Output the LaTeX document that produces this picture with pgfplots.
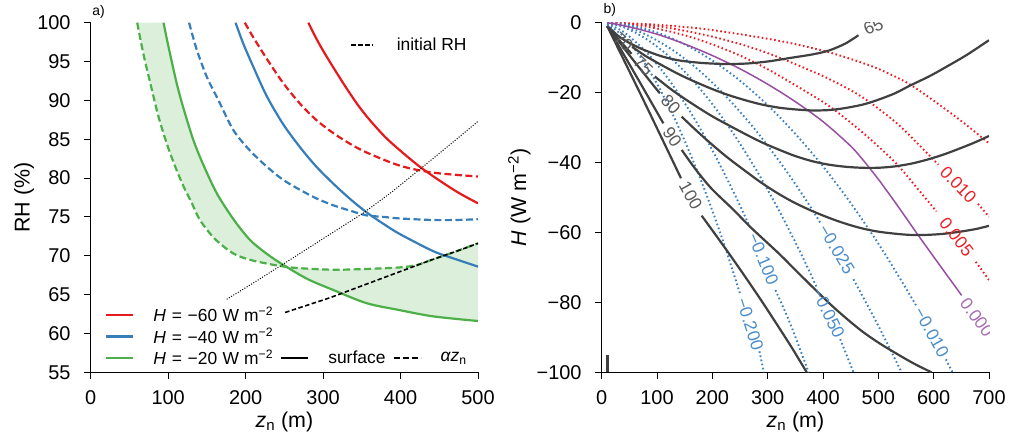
\documentclass[border=0pt]{standalone}
\usepackage{fontspec}
\setmainfont{Liberation Sans}
\setsansfont{Liberation Sans}
\usepackage{pgfplots}
\pgfplotsset{compat=1.18}
\definecolor{cred}{HTML}{E41A1C}
\definecolor{cblue}{HTML}{377EB8}
\definecolor{cgreen}{HTML}{4DAF4A}
\definecolor{cpurple}{HTML}{984EA3}
\definecolor{plab}{HTML}{A66BB0}
\definecolor{cdark}{HTML}{404040}
\definecolor{clab}{HTML}{5A5A5A}
\definecolor{rdot}{HTML}{EE1D23}
\definecolor{bdot}{HTML}{3A80C0}
\definecolor{blab}{HTML}{4A8CCB}
\definecolor{gfill}{HTML}{DBEFDB}
\tikzset{lab/.style={font=\fontsize{17.5}{20}\selectfont, inner sep=0pt}}
\newcommand{\Hent}[1]{\textit{H}\hspace{0.33em}=\hspace{0.33em}\textminus#1\hspace{0.3em}W\hspace{0.3em}m\textsuperscript{\textminus2}}
\pgfplotsset{
 panel/.style={
  scale only axis, width=387.3bp, height=349.6bp, anchor=south west,
  axis x line*=bottom, axis y line*=left,
  axis line style={line width=1.1bp, black},
  tick align=outside, major tick length=6.5bp,
  tick style={line width=1bp, black},
  tick label style={font=\fontsize{20}{22}\selectfont},
  label style={font=\fontsize{21.5}{24}\selectfont},
  /pgf/number format/assume math mode=true,
  xticklabel style={anchor=north, inner sep=0pt, yshift=-12bp},
  yticklabel style={anchor=east, inner sep=0pt, xshift=-13.5bp},
  xlabel style={at={(axis description cs:0.5,-0.1413)}, anchor=center},
  every axis plot/.append style={mark=none},
 },
 bc/.style={cdark, line width=2.2bp, smooth},
 rd/.style={rdot, line width=1.9bp, dash pattern=on 1.6bp off 2.6bp, smooth},
 bd/.style={bdot, line width=1.9bp, dash pattern=on 1.6bp off 2.6bp, smooth},
}
\begin{document}
\begin{tikzpicture}[x=1bp,y=1bp]
\path[use as bounding box] (0,0) rectangle (1021,441);
\node[font=\fontsize{14}{16}\selectfont, inner sep=0pt] at (98.5,429.5) {a)};
\node[font=\fontsize{14}{16}\selectfont, inner sep=0pt] at (609.7,431) {b)};

% ---------------- panel a ----------------
\begin{axis}[panel, at={(90.7bp,68.7bp)},
  xmin=0, xmax=500, ymin=55, ymax=100,
  xtick={0,100,...,500}, ytick={55,60,...,100},
  xlabel={\textit{z}\textsubscript{n} (m)}, ylabel={RH (\%)},
  ylabel style={at={(axis description cs:-0.172,0.5)}, anchor=center},
  legend columns=3, legend cell align=left,
  legend image code/.code={\draw[#1] (0bp,0bp) -- (27bp,0bp);},
  legend style={draw=none, fill=none, inner sep=0pt,
    at={(axis description cs:0.037,0.1925)}, anchor=north west,
    font=\fontsize{17.5}{20}\selectfont, row sep=1bp,
    /tikz/every odd column/.append style={column sep=17bp},
    /tikz/every even column/.append style={column sep=5bp}},
]
\addplot[fill=gfill, draw=none, forget plot] coordinates {
(60,100) (68,96.0) (77,92.2) (87,88.1) (98,84.5) (109,81.5) (120,78.9) (130,76.9) (141,74.6) (160,72.2) (184,70.3) (205,69.5) (227,69.0) (250,68.6) (270,68.4) (313,68.2) (356,68.3) (399,68.5) (420,68.75) (438,69.4) (470,70.5) (500,71.6)
(500,61.6) (442,62.2) (399,63.0) (356,63.9) (313,65.6) (280,67.0) (249,68.8) (228,70.2) (206,72.0) (185,74.6) (163,78.0) (145,81.8) (132.5,84.9) (120,88.9) (111,92.2) (100,97.1) (94,100)} -- cycle;
\addplot[cgreen, line width=2.2bp, smooth, forget plot] coordinates {
(94,100) (100,97.1) (111,92.2) (120,88.9) (132.5,84.9) (145,81.8) (163,78.0) (185,74.6) (206,72.0) (228,70.2) (249,68.8) (280,67.0) (313,65.6) (356,63.9) (399,63.0) (442,62.2) (500,61.6)};
\addplot[cgreen, line width=2.2bp, dash pattern=on 7bp off 3.5bp, smooth, forget plot] coordinates {
(60,100) (68,96.0) (77,92.2) (87,88.1) (98,84.5) (109,81.5) (120,78.9) (130,76.9) (141,74.6) (160,72.2) (184,70.3) (205,69.5) (227,69.0) (250,68.6) (270,68.4) (313,68.2) (356,68.3) (399,68.5) (420,68.75)};
\addplot[cgreen, line width=2.2bp, dash pattern=on 7bp off 3.5bp, forget plot] coordinates {
(420,68.75) (438,69.4) (470,70.5) (500,71.6)};
\addplot[cblue, line width=2.2bp, smooth, forget plot] coordinates {
(187,100) (197,97.3) (210,94.3) (227,90.6) (248,87.0) (270,84.0) (291,81.5) (313,79.3) (335,77.3) (356,75.6) (378,74.1) (399,72.8) (442,70.6) (470,69.6) (500,68.6)};
\addplot[cblue, line width=2.2bp, dash pattern=on 7bp off 3.5bp, smooth, forget plot] coordinates {
(127,100) (137,96.5) (150,93.0) (165,90.0) (184,86.2) (205,83.6) (227,81.5) (248,79.8) (270,78.5) (291,77.4) (313,76.5) (335,75.8) (356,75.2) (378,75.0) (399,74.8) (442,74.6) (470,74.6) (500,74.7)};
\addplot[cred, line width=2.2bp, smooth, forget plot] coordinates {
(281,100) (290,98.2) (300,96.4) (315,93.95) (330,91.6) (345,89.4) (360,87.5) (380,85.3) (400,83.5) (425,81.45) (450,79.7) (475,78.1) (500,76.75)};
\addplot[cred, line width=2.2bp, dash pattern=on 7bp off 3.5bp, smooth, forget plot] coordinates {
(199,100) (210,98.1) (227,95.4) (248,92.3) (270,89.6) (291,87.5) (313,85.8) (335,84.4) (356,83.3) (399,81.6) (442,80.7) (500,80.2)};
\addplot[black, line width=1bp, dash pattern=on 1bp off 1.6bp, forget plot] coordinates {
(175.6,64.4) (210,66.5) (246.6,68.8) (300,72.2) (352,75.5) (390,78.3) (427,81.3) (465,84.4) (500,87.3)};
\addplot[black, line width=1.6bp, dash pattern=on 4.5bp off 2.5bp, forget plot] coordinates {
(251,62.7) (309,64.6) (352,66.2) (395,67.8) (438,69.4) (470,70.5) (500,71.6)};
\addlegendimage{cred, line width=2.2bp}
\addlegendentry{\Hent{60}}
\addlegendimage{empty legend}\addlegendentry{}
\addlegendimage{empty legend}\addlegendentry{}
\addlegendimage{cblue, line width=2.2bp}
\addlegendentry{\Hent{40}}
\addlegendimage{empty legend}\addlegendentry{}
\addlegendimage{empty legend}\addlegendentry{}
\addlegendimage{cgreen, line width=2.2bp}
\addlegendentry{\Hent{20}}
\addlegendimage{black, line width=2.2bp}
\addlegendentry{surface}
\addlegendimage{black, line width=2.2bp, dash pattern=on 6bp off 3bp}
\addlegendentry{\textit{αz}\textsubscript{n}}
\end{axis}
\begin{axis}[at={(90.7bp,68.7bp)}, anchor=south west, scale only axis,
  width=387.3bp, height=349.6bp, hide axis, xmin=0, xmax=1, ymin=0, ymax=1,
  legend image code/.code={\draw[#1] (0bp,0bp) -- (22bp,0bp);},
  legend style={draw=none, fill=none, inner sep=0pt,
    at={(axis description cs:0.6695,0.962)}, anchor=north west,
    font=\fontsize{17.5}{20}\selectfont,
    /tikz/every odd column/.append style={column sep=21bp}}]
\addplot[draw=none, forget plot] coordinates {(0,0) (1,1)};
\addlegendimage{black, line width=1.6bp, dash pattern=on 4.5bp off 2.5bp}
\addlegendentry{initial RH}
\end{axis}

% ---------------- panel b ----------------
\begin{axis}[panel, at={(601.7bp,68.7bp)},
  xmin=0, xmax=700, ymin=-100, ymax=0,
  xtick={0,100,...,700}, ytick={-100,-80,...,0},
  yticklabels={\textminus100,\textminus80,\textminus60,\textminus40,\textminus20,0},
  xlabel={\textit{z}\textsubscript{n} (m)},
  ylabel={\textit{H} (W m\textsuperscript{\textminus2})},
  ylabel style={at={(axis description cs:-0.2125,0.5)}, anchor=center},
]
\addplot[rd] coordinates {(10,0) (60,-0.25) (117.5,-0.8) (180,-1.7) (238,-3.0) (300,-4.6) (349,-6.1) (409.6,-8.4) (460,-10.9) (500,-13.2) (550,-17.0) (590.3,-21.2) (650.5,-28.2) (700,-34.5)};
\addplot[rd] coordinates {(10,0) (60,-0.4) (100,-1.0) (150,-2.3) (200,-4.0) (250,-6.1) (300,-8.7) (349,-11.8) (409.6,-16.0) (470,-21.2) (530,-28.3) (570,-34.4) (608.5,-40.6)};
\addplot[rd] coordinates {(680,-51.8) (700,-55.5)};
\addplot[rd] coordinates {(10,0) (50,-0.4) (100,-1.7) (150,-3.6) (200,-6.2) (250,-9.4) (300,-13.3) (349,-17.8) (409.6,-23.7) (470,-31.2) (530,-39.9) (570,-47.3) (605,-54.0)};
\addplot[rd] coordinates {(676,-68.4) (700,-73.6)};
\addplot[bd] coordinates {(10,-0.4) (40,-4.0) (70,-9.8) (100,-17.5) (130,-26.8) (160,-37.5) (190,-49.5) (220,-62.8) (250,-77.5)};
\addplot[bd] coordinates {(285,-94) (293,-100)};
\addplot[bd] coordinates {(10,-0.3) (40,-2.7) (80,-8.3) (120,-16.0) (160,-25.5) (200,-36.5) (240,-49.0) (270,-59.2)};
\addplot[bd] coordinates {(314,-76.5) (340,-85.8) (374,-100)};
\addplot[bd] coordinates {(10,-0.1) (40,-1.3) (80,-4.6) (120,-9.4) (160,-15.7) (200,-23.3) (240,-32.2) (280,-42.3) (320,-53.6) (360,-66.0) (388,-75.5)};
\addplot[bd] coordinates {(431,-90.5) (455,-100)};
\addplot[bd] coordinates {(10,-0.05) (40,-1.0) (80,-3.4) (130,-8.0) (180,-14.2) (230,-22.0) (280,-31.1) (330,-41.6) (370,-50.9) (395,-57.2)};
\addplot[bd] coordinates {(455,-73.4) (500,-86.7) (542,-100)};
\addplot[bd] coordinates {(10,0) (50,-0.7) (100,-2.8) (150,-6.2) (200,-10.8) (250,-16.6) (300,-23.6) (350,-31.8) (400,-41.1) (450,-51.6) (500,-63.2) (540,-73.4) (568,-80.8)};
\addplot[bd] coordinates {(622,-96.3) (634,-100)};
\addplot[cpurple, line width=1.5bp, smooth] coordinates {(10,0) (50,-1.2) (100,-3.3) (150,-6.1) (200,-9.4) (250,-13.2) (300,-17.6) (350,-22.6) (400,-28.3) (450,-35.3) (475,-39.8) (500,-44.8) (525,-50.2) (550,-55.8) (572,-60.8) (612,-69.6) (650.5,-78.0)};
\addplot[bc] coordinates {(10,-1.0) (30,-3.8) (50,-5.8) (75,-7.7) (108,-9.6) (140,-10.8) (180,-11.5) (220,-11.8) (260,-11.7) (300,-11.1) (340,-10.1) (380,-9.1) (410,-8.0) (440,-6.0) (464,-3.6)};
\addplot[bc] coordinates {(10,-1.0) (25,-3.2)};
\addplot[bc] coordinates {(55,-6.9) (80,-9.6) (108,-12.1) (140,-14.8) (168.6,-16.9) (200,-19.0) (229,-20.7) (260,-22.2) (289,-23.4) (320,-24.3) (349,-24.8) (380,-25.1) (410,-25.0) (437,-24.5) (470,-23.5) (497,-22.2) (530,-20.2) (557,-18.0) (590,-15.5) (621,-12.8) (660,-9.2) (700,-5.0)};
\addplot[bc] coordinates {(10,-1.0) (30,-4.7) (54,-8.9)};
\addplot[bc] coordinates {(96,-15.4) (130,-19.6) (168.6,-23.7) (200,-26.8) (229,-29.3) (260,-31.9) (289,-34.2) (320,-36.3) (349,-38.1) (380,-39.6) (410,-40.6) (440,-41.2) (470,-41.5) (500,-41.5) (530,-41.1) (560,-40.3) (590,-39.1) (620,-37.6) (650,-35.8) (675,-34.2) (700,-32.4)};
\addplot[bc] coordinates {(10,-1.0) (55,-10.3) (105,-20.2)};
\addplot[bc] coordinates {(144.6,-26.9) (170,-30.7) (196,-34.4) (226,-38.4) (256,-42.0) (286,-45.5) (316,-48.6) (346,-51.3) (376.5,-53.6) (407,-55.6) (437,-57.3) (467,-58.7) (497,-59.7) (527,-60.3) (557,-60.7) (587,-60.7) (617,-60.4) (647,-59.8) (677,-59.0) (700,-58.1)};
\addplot[bc] coordinates {(10,-1.0) (60,-14.6) (111.4,-28.8)};
\addplot[bc] coordinates {(144.6,-36.4) (170,-42.0) (198.7,-47.5) (238,-53.5) (271,-58.8) (320,-66.0) (358,-72.0) (409.6,-80.0) (440,-84.3) (470,-88.2) (500,-91.5) (530,-94.4) (563,-97.4) (596,-100)};
\addplot[bc] coordinates {(10,-1.0) (75,-22.0) (143.3,-44.5)};
\addplot[bc] coordinates {(180.7,-55.2) (205,-60.5) (229,-65.8) (259,-72.6) (289,-79.6) (315,-85.9) (343,-92.8) (370.5,-100)};
\addplot[cdark, line width=2.6bp] coordinates {(10,-95) (10,-100)};
\node[lab, text=clab, rotate=24] at (axis cs:491,-1.1) {65};
\node[lab, text=clab, rotate=-40] at (axis cs:39,-5.6) {70};
\node[lab, text=clab, rotate=-43] at (axis cs:75,-12.4) {75};
\node[lab, text=clab, rotate=-47] at (axis cs:125,-23.5) {80};
\node[lab, text=clab, rotate=-55] at (axis cs:127.6,-32.6) {90};
\node[lab, text=clab, rotate=-61] at (axis cs:161,-49.5) {100};
\node[lab, text=rdot, rotate=-46] at (axis cs:644.6,-46.4) {0.010};
\node[lab, text=rdot, rotate=-52] at (axis cs:641.5,-61.3) {0.005};
\node[lab, text=plab, rotate=-54] at (axis cs:678,-84.3) {0.000};
\node[lab, text=blab, rotate=-61] at (axis cs:596,-88.5) {\textminus0.010};
\node[lab, text=blab, rotate=-59] at (axis cs:424.6,-64.8) {\textminus0.025};
\node[lab, text=blab, rotate=-64] at (axis cs:409.6,-83.0) {\textminus0.050};
\node[lab, text=blab, rotate=-67] at (axis cs:292,-67.6) {\textminus0.100};
\node[lab, text=blab, rotate=-72] at (axis cs:268,-86.2) {\textminus0.200};
\end{axis}
\end{tikzpicture}
\end{document}
